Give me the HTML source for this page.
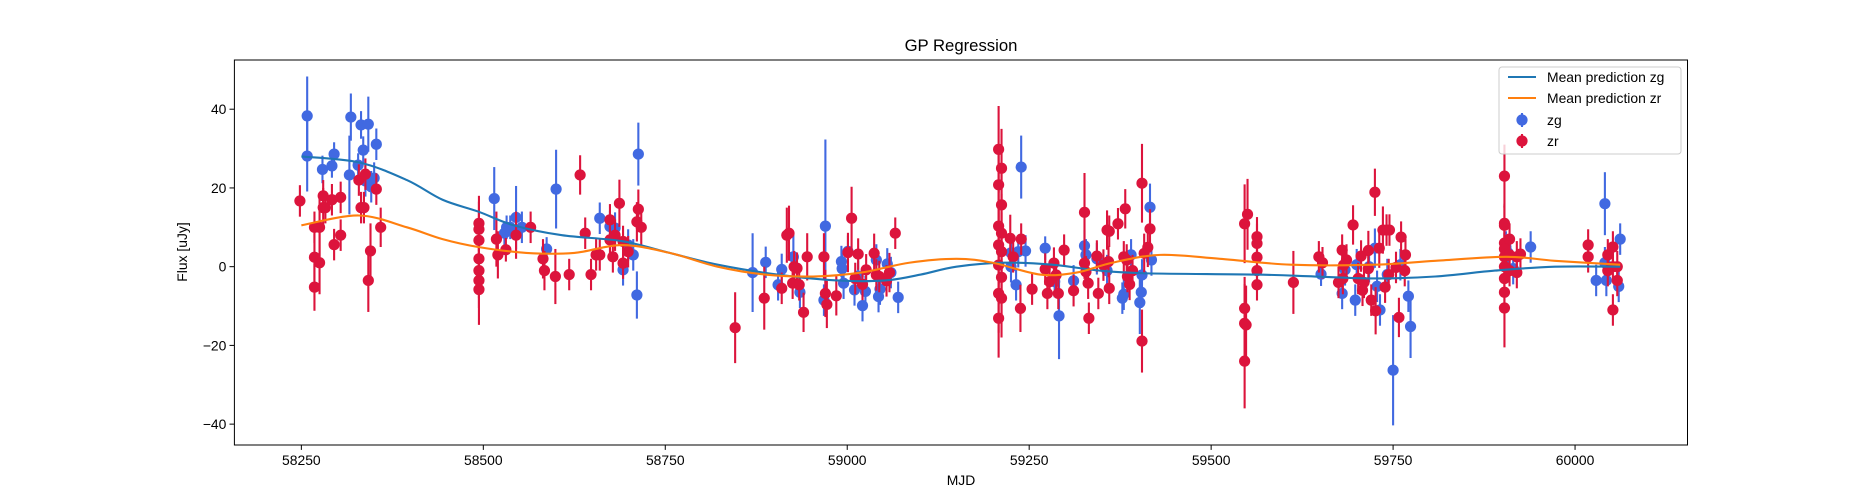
<!DOCTYPE html>
<html><head><meta charset="utf-8">
<style>
html,body{margin:0;padding:0;background:#fff;}
svg{display:block;font-family:"Liberation Sans","DejaVu Sans",sans-serif;}
</style></head>
<body>
<svg id="chart" width="1875" height="500" viewBox="0 0 1875 500" xmlns="http://www.w3.org/2000/svg">
<rect x="0" y="0" width="1875" height="500" fill="#fff"/>
<text x="961" y="51" font-size="16.7" text-anchor="middle" fill="#000">GP Regression</text>
<text x="961" y="485" font-size="13.9" text-anchor="middle" fill="#000">MJD</text>
<text x="0" y="0" font-size="13.9" text-anchor="middle" fill="#000" transform="translate(187,252) rotate(-90)">Flux [uJy]</text>
<g id="plot"></g>
</svg>
<script>
const xTicks=[58250,58500,58750,59000,59250,59500,59750,60000];
const yTicks=[-40,-20,0,20,40];
const zgMjd=[58258,58258,58279,58292,58295,58318,58316,58328,58332,58335,58342,58338,58346,58350,58353,58515,58529,58532,58537,58545,58553,58587,58600,58660,58674,58681,58692,58699,58706,58711,58713,58870,58888,58905,58910,58926,58935,58970,58968,58992,58993,58995,59001,59010,59015,59021,59025,59040,59045,59043,59055,59060,59070,59225,59232,59239,59225,59235,59245,59272,59285,59291,59311,59326,59328,59343,59357,59378,59380,59390,59402,59404,59405,59416,59418,59651,59680,59684,59698,59700,59717,59725,59728,59732,59750,59742,59760,59774,59771,59905,59908,59915,59939,60029,60041,60041,60043,60060,60062];
const zgFlux=[38.3,28.1,24.7,25.6,28.6,38,23.3,25.8,36,29.6,36.2,21.8,20.3,22.5,31.1,17.3,8.5,10,10,12.5,10,4.5,19.7,12.3,10.2,9.8,-0.8,5.5,3,-7.2,28.6,-1.5,1.1,-4.6,-0.7,2.5,-6.5,10.3,-8.5,1.3,-0.5,-4.2,3.9,-5.9,-2.4,-9.9,-6.3,1.7,-5.7,-7.6,0.7,-1.5,-7.8,0,-4.6,25.3,3.5,3.8,4,4.7,-3.8,-12.5,-3.6,5.3,3,2,-1,-8,-7,3,-9.1,-6.5,-2.1,15.1,1.7,-1.9,-6.8,-0.8,-8.5,0.5,0,4.7,-5,-11,-26.3,-2,0.5,-15.2,-7.5,5,3.5,-0.5,5,-3.5,16,1,-3.5,-5,7];
const zgErr=[10,9,3.5,3,3,6,10,3,3.5,3.5,7,4,4,4,4,8,3,3,3,8,4,3,10,4,4,4,4,4,4,6,8,10,4,4,4,6,4,22,4,4,4,4,4,4,4,4,4,4,4,4,4,4,4,4,4,8,4,4,4,3,4,11,4,4,4,4,4,4,4,4,8,4,4,6,4,3,4,4,4,4,4,5,4,4,14,4,4,8,4,4,4,4,4,4,8,4,4,4,4];
const zrMjd=[58248,58268,58268,58268,58275,58275,58280,58280,58283,58292,58295,58304,58304,58329,58332,58336,58338,58342,58345,58353,58359,58494,58494,58494,58494,58494,58494,58494,58518,58520,58531,58545,58565,58582,58584,58599,58633,58618,58640,58648,58655,58674,58687,58674,58681,58692,58678,58692,58713,58711,58717,58699,58660,58846,58886,58910,58917,58920,58927,58931,58925,58934,58940,58945,58968,58970,58972,58985,59001,59006,59015,59011,59021,59026,59037,59040,59044,59054,59058,59066,59208,59212,59208,59212,59208,59212,59208,59212,59208,59212,59208,59212,59208,59224,59228,59239,59238,59254,59272,59275,59278,59284,59287,59290,59298,59311,59326,59326,59328,59331,59332,59343,59345,59352,59357,59360,59359,59360,59372,59382,59380,59384,59385,59392,59388,59405,59405,59408,59413,59416,59546,59550,59546,59546,59548,59546,59563,59563,59563,59563,59563,59613,59648,59653,59675,59680,59682,59681,59686,59695,59706,59702,59708,59710,59716,59716,59720,59725,59726,59731,59736,59741,59745,59739,59744,59754,59758,59761,59767,59766,59903,59903,59903,59903,59903,59903,59903,59903,59903,59903,59910,59910,59910,59920,59920,59925,60018,60018,60045,60045,60052,60052,60052,60058,60058];
const zrFlux=[16.7,10,2.4,-5.2,10,1,18,15,15,17,5.6,17.6,8,22,15,15,23.5,-3.5,4,19.7,10,11,9.5,6.7,2,-1,-3.5,-5.8,7,3,4.3,8,10,2,-1,-2.5,23.3,-2,8.5,-2,3,11.9,16.1,6.8,8,6.4,2.5,0.9,14.6,11.4,10,3.8,3,-15.5,-8,-5.5,8,8.5,0,-0.4,-4.2,-4.6,-11.6,2.5,2.5,-6.8,-9.6,-7.4,3.6,12.3,3.2,-3,-4.5,-0.8,3.4,-2.1,-2.5,-3.6,-1.5,8.5,29.8,25,20.8,15.7,10.3,8.5,5.5,3.8,0.4,-2.7,-6.8,-8,-13.1,7.2,2.5,7,-10.6,-5.7,-0.6,-6.8,-3.8,0.9,-2.1,-6.8,4.2,-6.1,13.8,0.9,-1.3,-4.2,-13.1,2.7,-6.8,0.4,9.3,9,1.3,-5.5,10.9,14.7,2.5,1.7,-2.5,-1,-4.5,21.2,-18.9,3.4,4.9,9.6,10.9,13.3,-10.6,-14.4,-14.8,-24,7.6,5.9,2.4,-1,-4.6,-4,2.5,1,-4,4.2,0.4,-3,1.7,10.6,2.7,-3,-6,-4,4.1,-0.5,-8.5,18.9,-11.2,4.7,9.3,9.3,9.3,-5.2,-2,-0.2,-12.9,7.5,3,-1,23,11,10.5,6,4.5,2.5,0,-3,-6.5,-10.5,7,3,-1,2.5,-1.5,3.2,5.5,2.5,3,-1,5,0,-11,-3.5,0];
const zrErr=[4,4,6,6,8,8,4,5,4,4,4,4,4,4,4,4,4,8,7,4,5,7,7,7,7,7,7,9,7,6,3,6,4,5,5,7,5,4,4,4,4,4,6,4,4,4,4,4,5,5,5,4,4,9,8,4,7,7,4,4,4,4,5,6,6,6,6,5,5,8,4,4,4,4,5,4,4,4,5,4,11,10,10,10,10,10,10,10,10,10,10,10,10,6,4,4,6,4,4,4,4,4,4,4,4,4,10,4,4,4,4,4,4,4,5,4,4,4,4,5,4,4,4,4,4,10,8,5,5,5,10,9,8,10,10,12,5,5,4,4,4,8,4,4,4,4,4,4,4,5,4,4,4,4,5,4,4,6,6,5,6,4,4,4,4,4,5,4,4,4,8,5,5,5,4,4,4,4,5,10,4,4,4,4,4,4,4,4,4,4,4,4,4,4,4];
const gpZgMjd=[58250,58329,58395,58444,58493,58542,58608,58690,58756,58822,58904,58986,59052,59101,59150,59216,59282,59347,59413,59561,59643,59725,59808,59890,59972,60062];
const gpZgFlux=[28,26.5,22,17,14,10.5,8,6.5,3.5,0.5,-2,-3.5,-3.5,-2,0,1,0.5,-1,-1.7,-2,-2.5,-3,-2.5,-1,0,0];
const gpZrMjd=[58250,58329,58395,58444,58493,58559,58625,58690,58756,58822,58887,58953,59019,59085,59150,59200,59265,59315,59364,59430,59512,59610,59725,59808,59906,59972,60062];
const gpZrFlux=[10.5,13,10,7,5,3.5,3.5,5.5,3.5,0,-2,-2.5,-1.5,1,2,1,-2,-1.5,1,3,2,0.5,0.5,1.5,2.5,1.5,0.5];

const L=234.4,R=1687.5,T=60,B=445;
const XMIN=58158,XMAX=60154.5,YMIN=-45.3,YMAX=52.5;
function sx(v){return L+(v-XMIN)/(XMAX-XMIN)*(R-L);}
function sy(v){return B-(v-YMIN)/(YMAX-YMIN)*(B-T);}
const NS="http://www.w3.org/2000/svg";
const plot=document.getElementById('plot');
function mk(tag,attrs,parent){const e=document.createElementNS(NS,tag);for(const k in attrs)e.setAttribute(k,attrs[k]);(parent||plot).appendChild(e);return e;}

const svg=document.getElementById('chart');
const clip=mk('clipPath',{id:'clp'},svg);
mk('rect',{x:L,y:T,width:R-L,height:B-T},clip);

function smoothPath(xs,ys){
  const p=xs.map((x,i)=>[sx(x),sy(ys[i])]);
  let d='M'+p[0][0]+','+p[0][1];
  for(let i=0;i<p.length-1;i++){
    const p0=p[Math.max(0,i-1)],p1=p[i],p2=p[i+1],p3=p[Math.min(p.length-1,i+2)];
    const c1=[p1[0]+(p2[0]-p0[0])/6,p1[1]+(p2[1]-p0[1])/6];
    const c2=[p2[0]-(p3[0]-p1[0])/6,p2[1]-(p3[1]-p1[1])/6];
    d+=' C'+c1[0]+','+c1[1]+' '+c2[0]+','+c2[1]+' '+p2[0]+','+p2[1];
  }
  return d;
}

function drawPoints(xs,ys,es,color,name){
  const g=mk('g',{'clip-path':'url(#clp)'});
  
  
  for(let i=0;i<xs.length;i++){
    const x=sx(xs[i]);
    const ln=mk('line',{x1:x,x2:x,y1:sy(ys[i]-es[i]),y2:sy(ys[i]+es[i]),stroke:color,'stroke-width':2.1},g);
    
    
  }
  for(let i=0;i<xs.length;i++){
    const c=mk('circle',{cx:sx(xs[i]),cy:sy(ys[i]),r:5.6,fill:color},g);
    
    
  }
}
drawPoints(zgMjd,zgFlux,zgErr,'#4169e1','zg');
drawPoints(zrMjd,zrFlux,zrErr,'#dc143c','zr');

const lg=mk('path',{d:smoothPath(gpZgMjd,gpZgFlux),fill:'none',stroke:'#1f77b4','stroke-width':2.1,'clip-path':'url(#clp)'});


const lr=mk('path',{d:smoothPath(gpZrMjd,gpZrFlux),fill:'none',stroke:'#ff7f0e','stroke-width':2.1,'clip-path':'url(#clp)'});



const frame=mk('rect',{x:L,y:T,width:R-L,height:B-T,fill:'none',stroke:'#000','stroke-width':1});



xTicks.forEach(v=>{
  const x=sx(v);
  const t=mk('line',{x1:x,x2:x,y1:B,y2:B+4.9,stroke:'#000','stroke-width':1});
  
  
  const lb=mk('text',{x:x,y:B+20,'font-size':13.9,'text-anchor':'middle',fill:'#000'});
  lb.textContent=String(v);
  
  
});
yTicks.forEach(v=>{
  const y=sy(v);
  const t=mk('line',{x1:L-4.9,x2:L,y1:y,y2:y,stroke:'#000','stroke-width':1});
  
  
  const lb=mk('text',{x:L-8,y:y+5,'font-size':13.9,'text-anchor':'end',fill:'#000'});
  lb.textContent=v<0?'\u2212'+Math.abs(v):String(v);
  
  
});

const leg=mk('g',{});


const lbox=mk('rect',{x:1499,y:67,width:182,height:87,rx:3,fill:'#fff','fill-opacity':0.8,stroke:'#ccc','stroke-width':1},leg);


const entries=[['line','#1f77b4','Mean prediction zg',77],['line','#ff7f0e','Mean prediction zr',98],['pt','#4169e1','zg',120],['pt','#dc143c','zr',141]];
entries.forEach(e=>{
  const g=mk('g',{},leg);
  
  
  if(e[0]==='line'){mk('line',{x1:1508,x2:1536,y1:e[3],y2:e[3],stroke:e[1],'stroke-width':2.1},g);}
  else{mk('line',{x1:1522,x2:1522,y1:e[3]-7,y2:e[3]+7,stroke:e[1],'stroke-width':2.1},g);mk('circle',{cx:1522,cy:e[3],r:5.6,fill:e[1]},g);}
  const t=mk('text',{x:1547,y:e[3]+5,'font-size':13.9,fill:'#000'},g);
  t.textContent=e[2];
});
</script>
</body></html>
